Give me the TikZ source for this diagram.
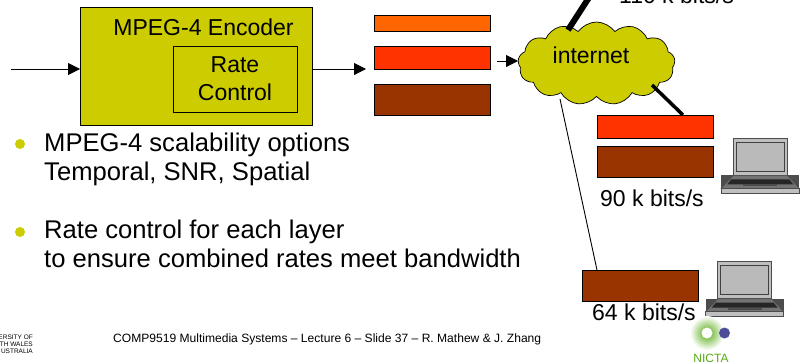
\documentclass[tikz,border=0pt]{standalone}
\usepackage{fontspec}
\setmainfont{Liberation Sans}
\usetikzlibrary{arrows.meta,shapes.symbols}
\definecolor{encfill}{HTML}{CCCC00}
\definecolor{layerA}{HTML}{FF6600}
\definecolor{layerB}{HTML}{FF3300}
\definecolor{layerC}{HTML}{993300}
\definecolor{nictagreen}{HTML}{55AA11}
\definecolor{nictablue}{HTML}{4D4D99}
\begin{document}
\begin{tikzpicture}[x=1pt,y=-1pt,
		label node/.style={font=\fontsize{23}{28}\selectfont,inner sep=0pt},
		point node/.style={font=\fontsize{25.6}{28}\selectfont,inner sep=0pt,anchor=base west},
		bar node/.style={draw,line width=0.9pt,minimum width=116pt,inner sep=0pt},
		box node/.style={draw,line width=0.9pt,fill=encfill,inner sep=0pt},
		flow/.style={line width=0.8pt,-{Triangle[length=12pt,width=12pt]}},
		bullet node/.style={circle,fill=encfill,minimum size=10pt,inner sep=0pt},
		laptop/.pic={
			\fill[black!70] (-12,37) -- (66,37) -- (66,55) -- (-12,55) -- cycle;
			\draw[black!70,fill=black!25,line width=0.8pt] (0,0) rectangle (54,37);
			\draw[black!75,fill=black!27,line width=0.9pt] (3,4) rectangle (51,33);
			\draw[black!70,fill=black!55,line width=0.6pt] (0,37) -- (54,37) -- (66,50) -- (-12,50) -- cycle;
			\fill[black!85] (-2,41) -- (56,41) -- (60,46) -- (-6,46) -- cycle;
			\fill[black!70] (10,46) rectangle (44,48);
			\draw[black!70,fill=black!25,line width=0.8pt] (-12,50) rectangle (66,55);
		}]
		
		\useasboundingbox (0,0) rectangle (807,364);
		\clip (0,0) rectangle (807,364);
		
		\node[box node,minimum width=231.5pt,minimum height=118pt] (enc) at (196.25,66) {};
		\node[label node] (enctitle) at (203.5,27) {MPEG-4 Encoder};
		\node[box node,minimum width=124pt,minimum height=66pt,align=center,label node,draw,line width=0.9pt] (rate) at (235,79) {Rate\\Control};
		
		\node[bar node,fill=layerA,minimum height=16pt] (bar1) at (432,23) {};
		\node[bar node,fill=layerB,minimum height=23pt] (bar2) at (432,57.5) {};
		\node[bar node,fill=layerC,minimum height=31pt] (bar3) at (432,100) {};
		
		\node[cloud,cloud puffs=13,cloud puff arc=110,draw,line width=0.7pt,fill=encfill,aspect=1.9,minimum width=157pt,minimum height=83pt,inner sep=0pt] (net) at (596.5,63.5) {};
		\node[label node] (nettext) at (591,55) {internet};
		
		\node[bar node,fill=layerB,minimum height=23pt] (bar4) at (655.5,126.5) {};
		\node[bar node,fill=layerC,minimum height=31pt] (bar5) at (655.5,161.5) {};
		\node[bar node,fill=layerC,minimum height=31pt] (bar6) at (640,285.5) {};
		
		\node[label node,anchor=base west] (rate1) at (619,4) {110 k bits/s};
		\node[label node,anchor=base west] (rate2) at (600,206) {90 k bits/s};
		\node[label node,anchor=base west] (rate3) at (592,320) {64 k bits/s};
		
		\pic at (733.3,138.3) {laptop};
		\pic at (717.7,261.7) {laptop};
		
		\coordinate (in) at (11,69);
		\coordinate (out) at (366,69);
		\coordinate (netin) at (497,61);
		\coordinate (top) at (590,-4);
		\coordinate (barfour) at (683,115);
		\coordinate (barsix) at (597,270);
		\coordinate (netfoot) at (560,99);
		\coordinate (nettop) at (568,30);
		\coordinate (netside) at (652,85);
		
		\draw[flow] (in) -- (enc.west |- in);
		\draw[flow] (enc.east |- out) -- (out);
		\draw[flow] (netin) -- (518,61);
		\draw[line width=6pt] (nettop) -- (top);
		\draw[line width=3.5pt] (netside) -- (barfour);
		\draw[line width=0.9pt] (netfoot) -- (barsix);
		
		\node[bullet node] (b1) at (20,144) {};
		\node[bullet node] (b2) at (20,232) {};
		\node[point node] (t1) at (44,151) {MPEG-4 scalability options};
		\node[point node] (t1b) at (44,180) {Temporal, SNR, Spatial};
		\node[point node] (t2) at (44,238.5) {Rate control for each layer};
		\node[point node] (t2b) at (44,267.5) {to ensure combined rates meet bandwidth};
		
		\node[font=\fontsize{12.07}{15}\selectfont,inner sep=0pt,anchor=base west] (foot) at (113,342) {COMP9519 Multimedia Systems -- Lecture 6 -- Slide 37 -- R. Mathew \& J. Zhang};
		\node[font=\fontsize{6.5}{7.2}\selectfont\rmfamily,align=right,inner sep=0pt,anchor=east] (uni) at (33,344) {ERSITY OF\\TH WALES\\USTRALIA};
		
		\shade[inner color=nictagreen,outer color=white] (707,333) circle (17pt);
		\node[circle,fill=white,minimum size=11pt,inner sep=0pt] (ndot) at (707,333) {};
		\node[circle,fill=nictablue,minimum size=11pt,inner sep=0pt] (bdot) at (724.5,333) {};
		\node[font=\fontsize{12}{14}\selectfont,text=nictagreen,inner sep=0pt] (nicta) at (711,358) {NICTA};
\end{tikzpicture}
\end{document}
